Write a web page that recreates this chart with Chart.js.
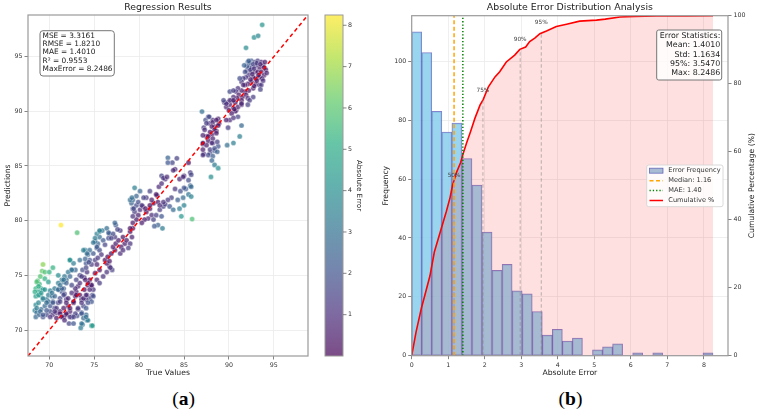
<!DOCTYPE html>
<html><head><meta charset="utf-8">
<script src="https://cdn.jsdelivr.net/npm/chart.js@4.4.1/dist/chart.umd.min.js"></script>
<style>
html,body{margin:0;padding:0;background:#fff;width:761px;height:414px;overflow:hidden;}
#ca{position:absolute;left:0;top:0;}
#cb{position:absolute;left:380px;top:0;}
.cap{position:absolute;top:388px;font-family:"Liberation Serif","DejaVu Serif",serif;font-size:19.5px;line-height:22px;transform:translateX(-50%);color:#000;white-space:nowrap;}
</style></head><body>
<canvas id="ca" width="380" height="385"></canvas>
<canvas id="cb" width="381" height="385"></canvas>
<div class="cap" style="left:183.5px">(<b>a</b>)</div>
<div class="cap" style="left:570.5px">(<b>b</b>)</div>
<script>
// ---------- Panel (a): regression scatter ----------
// [true value, prediction]
const scatterPoints = [
 [68.5,73.8],[68.7,74.5],[68.9,74.2],[69.1,73.8],[69.3,73.7],[68.8,73.5],[68.5,73.1],[69.0,73.2],[69.3,72.8],[68.5,72.3],
 [68.4,71.8],[68.6,71.6],[68.5,71.2],[68.9,71.4],[69.1,71.9],[69.5,72.2],[69.7,72.8],[69.9,73.2],[70.1,73.6],[70.3,73.1],
 [70.4,72.6],[70.6,72.0],[70.1,71.7],[69.7,71.4],[69.3,71.2],[70.4,71.4],[70.8,71.6],[71.0,72.5],[71.2,72.9],[71.4,73.5],
 [71.6,73.8],[71.7,73.3],[71.9,72.8],[72.1,72.2],[72.3,71.7],[71.9,71.4],[71.6,71.2],[71.2,71.7],[70.8,71.1],[72.5,71.2],
 [72.2,70.6],[72.7,72.5],[72.9,73.1],[73.0,73.5],[73.2,74.0],[73.4,73.2],[73.6,72.8],[73.8,72.2],[73.6,71.6],[73.2,71.9],
 [73.1,71.3],[74.1,71.4],[74.2,70.9],[73.7,70.5],[73.5,70.2],[74.7,70.4],[73.9,73.7],[74.3,74.1],[74.5,74.6],[74.7,74.1],
 [74.9,73.7],[74.8,73.2],[74.5,72.9],[74.1,72.8],[74.2,73.2],[73.9,74.8],[73.7,75.5],[74.2,75.3],[73.4,75.0],[72.9,75.5],
 [72.5,75.5],[72.1,75.3],[72.3,76.4],[72.7,76.1],[71.9,74.6],[71.6,74.4],[71.4,74.6],[71.7,74.9],[71.0,74.3],[70.6,73.8],
 [71.0,73.7],
 [69.3,76.0],[69.2,75.4],[69.5,75.3],[70.0,75.3],[70.4,75.7],[71.0,75.0],[71.3,79.6],[73.1,78.9],[85.9,80.15],
 [68.6,74.4],[68.8,74.0],[68.4,73.5],[68.8,73.2],[69.1,73.4],[69.5,73.7],[69.3,72.9],[68.8,72.5],[68.6,72.0],[69.0,71.7],
 [69.3,71.4],[69.7,71.8],[70.1,72.2],[69.9,72.6],[70.4,72.5],[70.6,73.1],[70.3,73.4],[71.0,73.7],[71.4,73.8],[71.6,73.2],
 [71.2,72.6],[70.8,72.0],[71.2,71.5],[71.6,72.0],[71.9,72.5],[72.1,72.9],[72.5,73.4],[72.9,73.8],[73.0,73.2],[72.7,72.6],
 [72.3,72.0],[71.9,71.5],[72.3,71.2],[72.9,71.5],[73.2,72.0],[73.6,72.5],[73.8,72.9],[74.1,73.2],[74.5,73.7],[74.7,74.1],
 [74.3,74.3],[74.0,74.6],[73.4,74.3],[73.0,74.6],[72.5,74.1],[71.9,74.3],[71.6,74.6],[71.2,74.1],[72.3,74.9],[73.6,74.9],
 [74.9,73.1],[74.7,72.6],[74.3,72.5],[74.1,72.0],[73.6,71.5],[73.8,71.1],[74.3,70.9],[73.6,70.6],[74.1,71.2],[70.1,71.2],
 [69.7,72.5],[70.6,71.7],[71.4,71.2],[71.7,70.9],[72.7,71.2],[72.7,70.6],[69.5,74.7],[69.9,74.4],[69.0,74.9],[74.8,70.4],
 [74.0,77.3],[74.3,76.9],[74.5,76.4],[74.1,76.1],[74.1,75.7],[74.7,76.0],[75.1,76.4],[74.9,77.0],[75.3,77.5],[75.4,77.9],
 [75.1,78.1],[75.6,78.5],[75.3,78.8],[75.6,79.0],[75.9,79.1],[76.4,79.3],[76.7,78.8],[76.6,78.4],[76.0,78.2],[76.2,77.8],
 [75.6,77.3],[75.8,76.9],[75.4,76.6],[75.3,76.0],[75.6,75.5],[75.1,75.2],[75.3,74.6],[75.6,74.3],[76.0,74.9],[76.4,75.3],
 [76.7,75.8],[76.4,76.1],[76.2,76.4],[76.5,76.7],[76.9,77.0],[77.3,77.3],[77.1,77.6],[77.4,77.9],[77.7,78.2],[77.3,78.5],
 [77.1,78.8],[77.4,79.6],[77.9,79.1],[78.2,78.5],[78.4,77.9],[78.0,77.6],[77.9,77.0],[78.2,77.3],[78.6,78.2],[79.0,77.9],
 [78.8,77.5],[79.2,78.5],[79.0,79.0],[79.3,79.3],[77.0,75.5],[76.7,76.3],[76.8,75.7],
 [75.6,79.1],[75.1,78.4],[74.9,78.0],[75.3,77.6],[74.5,77.3],[74.2,77.0],[74.0,76.5],[74.4,76.2],[73.8,77.3],[73.4,76.4],
 [72.3,76.4],[72.5,75.5],[76.6,78.9],[76.9,78.4],[77.3,79.8],[77.6,79.2],
 [79.15,81.6],[79.3,81.1],[79.7,81.4],[79.5,80.8],[79.9,80.5],[80.1,81.0],[80.4,81.3],[80.8,80.8],[81.2,81.1],[81.4,80.5],
 [81.0,80.2],[80.6,80.1],[81.6,80.1],[81.9,80.5],[82.3,81.0],[82.7,81.3],[82.5,80.4],[82.1,79.6],[82.6,79.3],[81.7,79.5],
 [80.3,79.8],[79.7,80.1],[79.3,80.4],[79.3,79.8],[79.0,79.3],[79.9,81.7],[79.3,81.9],[81.6,81.6],[82.1,81.7],[79.0,81.9],
 [79.7,82.25],[80.3,81.4],[80.7,81.1],[79.4,81.1],[81.2,81.4],[80.8,82.1],[82.3,81.4],[82.9,81.5],[83.4,81.3],[80.1,82.7],
 [79.5,83.0],[83.8,81.0],[84.5,81.1],[85.0,81.4],[84.7,80.4],[79.2,82.1],[80.5,82.1],[81.2,82.7],[82.0,82.3],
 [83.2,85.75],[83.7,85.3],[82.5,84.1],[82.9,83.8],[84.0,84.7],[84.5,83.8],[85.0,84.1],[85.5,85.3],[85.7,84.4],[84.0,82.9],
 [84.6,82.7],[85.2,82.9],[85.7,83.2],[83.2,85.3],[84.2,85.7],[83.8,84.6],[82.7,83.9],[83.1,84.0],[84.9,84.0],[85.8,84.2],
 [85.5,83.7],[85.0,83.0],[85.8,83.1],[85.5,82.4],[85.8,82.2],[84.9,82.1],[84.3,81.9],[83.6,82.1],[83.2,81.9],[82.7,81.7],
 [81.9,82.4],[81.4,81.9],[82.2,83.1],[82.5,83.4],
 [87.0,89.97],[87.2,88.5],[87.4,89.2],[87.7,89.5],[87.8,88.9],[88.2,89.2],[88.4,88.6],[88.8,89.3],[88.9,88.9],[88.6,88.2],
 [88.1,87.9],[87.5,87.7],[87.1,87.0],[87.7,87.3],[88.2,87.1],[88.8,86.8],[87.2,86.1],[87.9,86.2],[88.4,86.4],[87.8,89.5],
 [88.2,89.0],[87.5,88.9],[88.1,88.6],[88.6,89.2],[88.8,88.7],[88.4,88.3],[87.9,88.1],[87.3,88.3],[87.1,87.8],[87.7,87.7],
 [88.2,87.5],[88.6,88.0],[88.7,87.2],[88.1,87.1],[87.5,86.9],[87.1,87.1],[87.1,86.5],[87.9,86.5],[88.4,86.6],[88.7,86.3],
 [87.7,86.0],[88.2,85.9],[88.1,85.5],[88.4,85.1],[88.8,84.8],[88.0,84.0],[87.1,86.0],
 [91.9,95.8],[92.8,96.75],[93.25,96.9],[93.7,97.9],
 [92.1,94.5],[92.5,94.6],[92.9,94.5],[93.2,94.6],[93.6,94.5],[93.8,94.2],[93.4,94.0],[93.0,94.2],[92.6,94.0],[92.3,94.0],
 [92.0,93.7],[92.5,93.6],[92.9,93.6],[93.2,93.6],[93.6,93.6],[93.9,93.3],[93.4,93.1],[93.0,93.0],[92.7,93.1],[92.2,93.3],
 [91.9,93.1],[91.8,93.6],[91.6,93.0],[91.4,92.7],[91.2,93.0],[92.5,92.7],[92.1,92.5],[91.8,92.4],[93.0,92.5],[93.4,92.4],
 [92.7,92.1],[92.2,91.9],[91.8,91.8],[91.4,91.9],[91.0,92.1],[90.8,91.8],[91.1,91.5],[91.5,91.3],[91.9,91.5],[92.1,91.2],
 [91.4,91.0],[90.9,91.2],[90.5,91.3],[90.3,91.0],[90.7,90.8],[90.1,90.6],[89.8,90.8],[89.7,90.4],[89.5,90.8],[90.0,90.1],
 [90.5,90.3],[90.8,90.1],[91.0,90.4],[91.4,90.6],[90.7,90.0],[90.3,89.8],[93.6,92.4],[93.5,92.0],
 [91.0,89.5],[91.4,88.7],[91.2,87.7],[90.5,87.1],[89.8,86.9],[90.1,89.2],[90.5,89.4],[89.9,88.5],[89.7,89.2],[90.6,90.2],
 [90.1,91.0],[89.7,90.7],[90.5,91.0],[89.4,91.0],[90.1,91.8],[90.5,91.9],
 [92.3,94.4],[92.7,94.3],[93.1,94.4],[93.5,94.3],[93.9,94.0],[94.1,93.8],[92.4,93.8],[92.8,93.9],[93.3,93.3],[93.7,93.0],
 [92.6,93.4],[92.0,94.1],[91.7,94.2],[92.2,94.6],[94.0,94.5],[93.1,92.8],[92.4,92.9],[91.6,92.4],[93.8,92.8],[94.2,93.5],
 [92.8,92.3],[92.7,91.3],[92.3,91.0],[92.1,90.6],[91.4,90.7]
];
const axisRangeA = [67.63, 98.8];
const axisTicksA = [70, 75, 80, 85, 90, 95];
const colorbarTicks = [1, 2, 3, 4, 5, 6, 7, 8];
const colorbarMax = 8.2486;
const metricsLines = ['MSE = 3.3161', 'RMSE = 1.8210', 'MAE = 1.4010', 'R\u00B2 = 0.9553', 'MaxError = 8.2486'];

// ---------- Panel (b): error distribution ----------
const binLeft = [0,0.275,0.55,0.825,1.1,1.375,1.65,1.925,2.2,2.475,2.75,3.025,3.3,3.575,3.85,4.125,4.4,4.675,4.95,5.225,5.5,5.775,6.05,6.325,6.6,6.875,7.15,7.425,7.7,7.975];
const binWidth = 0.275;
const binCounts = [110,103,83,76,79,67,58,42,29,31,22,21,15,7,9,5,6,0,2,3,4,0,1,0,1,0,0,0,0,1];
const cumX = [0,0.12,0.27,0.36,0.5,0.62,0.82,0.95,1.05,1.12,1.23,1.34,1.41,1.5,1.61,1.73,1.87,1.96,2.1,2.28,2.41,2.59,2.82,2.96,3.12,3.23,3.37,3.51,3.69,3.96,4.24,4.6,5.06,5.3,5.7,6.1,6.7,7.5,8.25];
const cumY = [0,7,14.2,17.8,23.5,30.5,37.8,42.5,46.5,50.2,54,56.8,59.5,62.5,65.9,69.8,73.7,75.4,79.1,82,83.5,86.4,88.4,90.1,90.8,92.4,93.4,94.7,95.5,96.8,97.5,98.4,98.7,99.0,99.6,99.8,99.9,99.9,100];
const medianVal = 1.16;
const maeVal = 1.40;
const pctLabels = ['50%', '75%', '90%', '95%'];
const pctX = [1.16, 1.95, 2.97, 3.547];
const pctY = [50, 75, 90, 95];
const xRangeB = [0, 8.66];
const xTicksB = [0, 1, 2, 3, 4, 5, 6, 7, 8];
const yRangeB = [0, 115.5];
const yTicksB = [0, 20, 40, 60, 80, 100];
const y2TicksB = [0, 20, 40, 60, 80, 100];
const errStatsLines = ['Error Statistics:', 'Mean: 1.4010', 'Std: 1.1634', '95%: 3.5470', 'Max: 8.2486'];
const legendLabels = ['Error Frequency', 'Median: 1.16', 'MAE: 1.40', 'Cumulative %'];

// ---------- helpers ----------
Chart.defaults.font.family = "'DejaVu Sans', sans-serif";
const FONT = "'DejaVu Sans', sans-serif";
const VIR = [[68,1,84],[71,44,122],[59,81,139],[44,113,142],[33,144,141],[39,173,129],[92,200,99],[170,220,50],[253,231,37]];
function viridis(t, a) {
  t = Math.max(0, Math.min(1, t));
  const s = t * (VIR.length - 1);
  const i = Math.min(Math.floor(s), VIR.length - 2);
  const f = s - i;
  const c = VIR[i].map((v, k) => Math.round(v + (VIR[i + 1][k] - v) * f));
  return 'rgba(' + c[0] + ',' + c[1] + ',' + c[2] + ',' + a + ')';
}
function setTicks(list) { return function (ax) { ax.ticks = list.map(v => ({ value: v })); }; }
function rrect(ctx, x, y, w, h, r) {
  ctx.beginPath();
  ctx.moveTo(x + r, y); ctx.lineTo(x + w - r, y); ctx.quadraticCurveTo(x + w, y, x + w, y + r);
  ctx.lineTo(x + w, y + h - r); ctx.quadraticCurveTo(x + w, y + h, x + w - r, y + h);
  ctx.lineTo(x + r, y + h); ctx.quadraticCurveTo(x, y + h, x, y + h - r);
  ctx.lineTo(x, y + r); ctx.quadraticCurveTo(x, y, x + r, y); ctx.closePath();
}
const framePlugin = {
  id: 'frame',
  afterDraw(chart) {
    const { ctx, chartArea: a } = chart;
    ctx.save(); ctx.strokeStyle = '#9a9a9a'; ctx.lineWidth = 1.2;
    ctx.strokeRect(a.left, a.top, a.right - a.left, a.bottom - a.top);
    ctx.restore();
  }
};
const gridStyle = { color: '#ebebeb', lineWidth: 0.8, tickColor: '#666', tickLength: 3.5, tickWidth: 0.8 };
const tickStyle = { font: { size: 6.3 }, color: '#333', padding: 2, maxRotation: 0, autoSkip: false, callback: v => String(v) };

// ---------- Chart A ----------
const errs = scatterPoints.map(p => Math.abs(p[0] - p[1]));
const panelAPlugin = {
  id: 'panelA',
  afterDraw(chart) {
    const { ctx, chartArea: a } = chart;
    ctx.save();
    // metrics box
    rrect(ctx, 40, 30.7, 74.3, 45.3, 3);
    ctx.fillStyle = 'rgba(255,255,255,0.85)'; ctx.fill();
    ctx.strokeStyle = '#777'; ctx.lineWidth = 1; ctx.stroke();
    ctx.fillStyle = '#222'; ctx.font = '7.4px ' + FONT; ctx.textAlign = 'left'; ctx.textBaseline = 'middle';
    metricsLines.forEach((t, i) => ctx.fillText(t, 42.5, 35.9 + i * 8.33));
    // colorbar
    const x0 = 325, x1 = 343, top = a.top, bot = a.bottom;
    const g = ctx.createLinearGradient(0, bot, 0, top);
    for (let i = 0; i <= 24; i++) { const t = i / 24; g.addColorStop(t, viridis(t, 0.7)); }
    ctx.fillStyle = g; ctx.fillRect(x0, top, x1 - x0, bot - top);
    ctx.strokeStyle = '#9a9a9a'; ctx.lineWidth = 1; ctx.strokeRect(x0, top, x1 - x0, bot - top);
    ctx.strokeStyle = '#666'; ctx.lineWidth = 0.8; ctx.fillStyle = '#333'; ctx.font = '6.3px ' + FONT;
    colorbarTicks.forEach(v => {
      const y = bot - v / colorbarMax * (bot - top);
      ctx.beginPath(); ctx.moveTo(x1, y); ctx.lineTo(x1 + 3.5, y); ctx.stroke();
      ctx.fillText(String(v), x1 + 5, y);
    });
    ctx.translate(359, (top + bot) / 2); ctx.rotate(Math.PI / 2);
    ctx.textAlign = 'center'; ctx.fillStyle = '#222'; ctx.font = '7.2px ' + FONT;
    ctx.fillText('Absolute Error', 0, 0);
    ctx.restore();
  }
};
new Chart(document.getElementById('ca'), {
  type: 'scatter',
  data: {
    datasets: [
      { label: 'diag', data: axisRangeA.map(v => ({ x: v, y: v })), showLine: true, borderColor: '#ff0000',
        borderWidth: 1.5, borderDash: [4, 3], pointRadius: 0, order: 0 },
      { label: 'points', data: scatterPoints.map(p => ({ x: p[0], y: p[1] })),
        backgroundColor: errs.map(e => viridis(e / colorbarMax, 0.7)), borderColor: 'rgba(255,255,255,0.75)',
        borderWidth: 0.5, pointRadius: 2.6, order: 1 }
    ]
  },
  options: {
    responsive: false, animation: false, events: [],
    layout: { padding: { left: 0, right: 72, top: 0, bottom: 0 } },
    plugins: {
      legend: { display: false }, tooltip: { enabled: false },
      title: { display: true, text: 'Regression Results', fullSize: false, color: '#222',
        font: { size: 9.3, weight: 'normal' }, padding: { top: 2, bottom: 1.84 } }
    },
    scales: {
      x: { type: 'linear', min: axisRangeA[0], max: axisRangeA[1], afterBuildTicks: setTicks(axisTicksA),
        afterFit: ax => { ax.height = 29; }, grid: gridStyle, border: { display: false }, ticks: tickStyle,
        title: { display: true, text: 'True Values', color: '#222', font: { size: 7.7 }, padding: { top: 0, bottom: 6.9 } } },
      y: { type: 'linear', min: axisRangeA[0], max: axisRangeA[1], afterBuildTicks: setTicks(axisTicksA),
        afterFit: ax => { ax.width = 28; }, grid: gridStyle, border: { display: false }, ticks: tickStyle,
        title: { display: true, text: 'Predictions', color: '#222', font: { size: 7.7 }, padding: { top: 3.7, bottom: 0 } } }
    }
  },
  plugins: [framePlugin, panelAPlugin]
});

// ---------- Chart B ----------
const panelBPlugin = {
  id: 'panelB',
  afterDraw(chart) {
    const { ctx, chartArea: a, scales } = chart;
    ctx.save();
    // percentile labels
    ctx.fillStyle = '#444'; ctx.font = '5.8px ' + FONT; ctx.textAlign = 'center'; ctx.textBaseline = 'middle';
    pctLabels.forEach((t, i) => {
      ctx.fillText(t, scales.x.getPixelForValue(pctX[i]), scales.y2.getPixelForValue(pctY[i] + 3));
    });
    // error statistics box
    rrect(ctx, 276.7, 30, 65, 50, 2);
    ctx.fillStyle = 'rgba(255,255,255,0.85)'; ctx.fill();
    ctx.strokeStyle = '#777'; ctx.lineWidth = 1; ctx.stroke();
    ctx.fillStyle = '#222'; ctx.font = '7.9px ' + FONT; ctx.textAlign = 'right';
    errStatsLines.forEach((t, i) => ctx.fillText(t, 340.3, 35.8 + i * 9.33));
    // legend
    rrect(ctx, 266.7, 165, 76.3, 41.7, 2);
    ctx.fillStyle = 'rgba(255,255,255,0.85)'; ctx.fill();
    ctx.strokeStyle = '#d0d0d0'; ctx.lineWidth = 0.8; ctx.stroke();
    const rows = [170.7, 180.7, 190.5, 200.5];
    ctx.fillStyle = 'rgb(168,189,212)'; ctx.fillRect(269.5, rows[0] - 2.5, 13.5, 5);
    ctx.strokeStyle = 'rgba(60,60,170,0.7)'; ctx.lineWidth = 0.8; ctx.strokeRect(269.5, rows[0] - 2.5, 13.5, 5);
    const lineStyles = [null, ['#ffa500', [4, 2.5]], ['#008000', [1.3, 2]], ['#ff0000', []]];
    for (let i = 1; i < 4; i++) {
      ctx.beginPath(); ctx.strokeStyle = lineStyles[i][0]; ctx.setLineDash(lineStyles[i][1]); ctx.lineWidth = 1.5;
      ctx.moveTo(269.5, rows[i]); ctx.lineTo(283, rows[i]); ctx.stroke();
    }
    ctx.setLineDash([]);
    ctx.fillStyle = '#333'; ctx.font = '6.6px ' + FONT; ctx.textAlign = 'left';
    legendLabels.forEach((t, i) => ctx.fillText(t, 288.3, rows[i]));
    // right axis title
    ctx.translate(371.7, (a.top + a.bottom) / 2); ctx.rotate(-Math.PI / 2);
    ctx.textAlign = 'center'; ctx.fillStyle = '#222'; ctx.font = '7.7px ' + FONT;
    ctx.fillText('Cumulative Percentage (%)', 0, 0);
    ctx.restore();
  }
};
const vline = (x, y0, y1) => [{ x: x, y: y0 }, { x: x, y: y1 }];
const datasetsB = [
  { type: 'bar', label: 'Error Frequency', data: binLeft.map((l, i) => ({ x: l + binWidth / 2, y: binCounts[i] })),
    backgroundColor: 'rgba(135,206,235,0.85)', borderColor: 'rgba(50,50,170,0.6)', borderWidth: 1, borderSkipped: false,
    barPercentage: 1, categoryPercentage: 1, grouped: false, xAxisID: 'x', yAxisID: 'y', order: 10 },
  { type: 'line', label: 'Cumulative %', data: cumX.map((x, i) => ({ x: x, y: cumY[i] })), xAxisID: 'x', yAxisID: 'y2',
    borderColor: '#ff0000', borderWidth: 1.6, pointRadius: 0, tension: 0, fill: 'origin',
    backgroundColor: 'rgba(255,0,0,0.12)', order: 5 }
];
pctX.forEach((x, i) => datasetsB.push({ type: 'line', label: 'p' + i, data: vline(x, 0, pctY[i]), xAxisID: 'x', yAxisID: 'y2',
  borderColor: 'rgba(128,128,128,0.55)', borderWidth: 1, borderDash: [3.5, 2.5], pointRadius: 0, fill: false, order: 3 }));
datasetsB.push({ type: 'line', label: 'Median', data: vline(medianVal, 0, 100), xAxisID: 'x', yAxisID: 'y2',
  borderColor: '#ffa500', borderWidth: 1.5, borderDash: [4, 2.5], pointRadius: 0, fill: false, order: 1 });
datasetsB.push({ type: 'line', label: 'MAE', data: vline(maeVal, 0, 100), xAxisID: 'x', yAxisID: 'y2',
  borderColor: '#008000', borderWidth: 1.5, borderDash: [1.3, 2], pointRadius: 0, fill: false, order: 1 });

new Chart(document.getElementById('cb'), {
  type: 'bar',
  data: { datasets: datasetsB },
  options: {
    responsive: false, animation: false, events: [],
    layout: { padding: 0 },
    plugins: {
      legend: { display: false }, tooltip: { enabled: false },
      title: { display: true, text: 'Absolute Error Distribution Analysis', fullSize: false, color: '#222',
        font: { size: 9.4, weight: 'normal' }, padding: { top: 2, bottom: 2.42 } }
    },
    scales: {
      x: { type: 'linear', min: xRangeB[0], max: xRangeB[1], offset: false, afterBuildTicks: setTicks(xTicksB),
        afterFit: ax => { ax.height = 29.3; }, grid: Object.assign({}, gridStyle, { offset: false }), border: { display: false },
        ticks: tickStyle,
        title: { display: true, text: 'Absolute Error', color: '#222', font: { size: 7.7 }, padding: { top: 0, bottom: 7.2 } } },
      y: { type: 'linear', position: 'left', min: yRangeB[0], max: yRangeB[1], afterBuildTicks: setTicks(yTicksB),
        afterFit: ax => { ax.width = 31.7; }, grid: gridStyle, border: { display: false }, ticks: tickStyle,
        title: { display: true, text: 'Frequency', color: '#222', font: { size: 7.7 }, padding: { top: 0.9, bottom: 0 } } },
      y2: { type: 'linear', position: 'right', min: 0, max: 100, afterBuildTicks: setTicks(y2TicksB),
        afterFit: ax => { ax.width = 33; },
        grid: { display: true, drawOnChartArea: false, drawTicks: true, tickLength: 3.5, tickColor: '#666', tickWidth: 0.8 },
        border: { display: false }, ticks: tickStyle, title: { display: false } }
    }
  },
  plugins: [framePlugin, panelBPlugin]
});
</script>
</body></html>
